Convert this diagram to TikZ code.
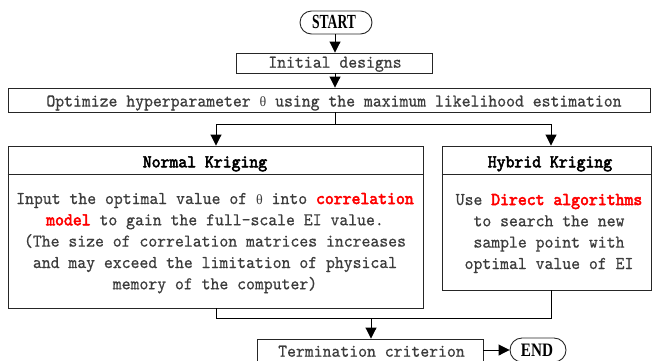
\documentclass[tikz,border=0pt]{standalone}
\usepackage{fontspec}
\newfontfamily\bodyfont{lmmono10-regular.otf}[FakeStretch=0.94, FakeBold=0.6]
\newfontfamily\heavyfont{lmmono10-regular.otf}[FakeStretch=0.94, FakeBold=3]
\newfontfamily\greekfont{Liberation Serif}
\newfontfamily\startfont{Liberation Serif}[FakeStretch=0.68]
\newfontfamily\endfont{Liberation Serif}[FakeStretch=0.8]
\usetikzlibrary{arrows.meta,shapes.misc}
\definecolor{bodygray}{HTML}{3C3C3C}
\definecolor{hilite}{HTML}{FF0000}
\newcommand{\hl}[1]{\textcolor{hilite}{\heavyfont #1}}
\newcommand{\thetachar}{{\greekfont\fontsize{14}{14}\selectfont θ}}
\tikzset{
  frame/.style={draw=black!85, line width=0.9pt, rectangle, inner sep=0pt},
  terminal/.style={draw=black!85, line width=0.9pt, rounded rectangle, inner sep=0pt},
  label/.style={anchor=base, inner sep=0pt, font=\bodyfont\fontsize{18}{21}\selectfont, text=bodygray},
  headlabel/.style={anchor=base, inner sep=0pt, font=\heavyfont\fontsize{18}{21}\selectfont, text=black},
  flow/.style={draw=black, line width=0.9pt},
  arr/.style={flow, -{Triangle[length=11pt,width=11pt]}},
}
\begin{document}
\begin{tikzpicture}[x=1pt,y=-1pt]
\useasboundingbox (0,0) rectangle (652,360);
\clip (0,0) rectangle (652,360);

% start / end terminals
\node[terminal, minimum width=72pt, minimum height=23pt] (start) at (336,22.5) {};
\node[anchor=base, inner sep=0pt, font=\startfont\bfseries\fontsize{20}{21}\selectfont] (startt) at (334,28) {START};

\node[terminal, minimum width=56pt, minimum height=24pt] (stop) at (538,350) {};
\node[anchor=base, inner sep=0pt, font=\endfont\bfseries\fontsize{19}{21}\selectfont] (stopt) at (537,356) {END};

% process boxes
\node[frame, minimum width=196pt, minimum height=20pt] (init) at (334,63) {};
\node[label] (initt) at (335,67.7) {Initial designs};

\node[frame, minimum width=642pt, minimum height=24pt] (opt) at (329,100) {};
\node[label] (optt) at (334,106.5) {Optimize hyperparameter \thetachar\ using the maximum likelihood estimation};

\node[frame, minimum width=226pt, minimum height=22pt] (term) at (370,350) {};
\node[label] (termt) at (371.5,356.7) {Termination criterion};

% normal kriging branch
\node[frame, minimum width=415pt, minimum height=162pt] (nk) at (215.5,227) {};
\draw[flow, draw=black!85] (nk.west |- 0,174) -- (nk.east |- 0,174);
\node[headlabel] (nkh) at (205,167.3) {Normal Kriging};
\node[label] (nk1) at (215,204) {Input the optimal value of \thetachar\ into \hl{correlation}};
\node[label] (nk2) at (215,225.3) {\hl{model} to gain the full-scale EI value.};
\node[label] (nk3) at (215,246.6) {(The size of correlation matrices increases};
\node[label] (nk4) at (215,268) {and may exceed the limitation of physical};
\node[label] (nk5) at (215,289.3) {memory of the computer)};

% hybrid kriging branch
\node[frame, minimum width=209pt, minimum height=144pt] (hk) at (546.5,218) {};
\draw[flow, draw=black!85] (hk.west |- 0,174) -- (hk.east |- 0,174);
\node[headlabel] (hkh) at (550,167.3) {Hybrid Kriging};
\node[label] (hk1) at (549,205) {Use \hl{Direct algorithms}};
\node[label] (hk2) at (549,226.3) {to search the new};
\node[label] (hk3) at (549,247.6) {sample point with};
\node[label] (hk4) at (549,269) {optimal value of EI};

% connectors
\coordinate (split) at (335,124);
\coordinate (merge) at (371,318);
\draw[arr] (start.south -| 335,0) -- (init.north -| 335,0);
\draw[arr] (init.south -| 335,0) -- (opt.north -| 335,0);
\draw[flow] (opt.south -| split) -- (split);
\draw[arr] (split) -| ([xshift=0.5pt]nk.north);
\draw[arr] (split) -| ([xshift=4.5pt]hk.north);
\draw[flow] ([xshift=0.5pt]nk.south) |- (merge);
\draw[flow] ([xshift=4.5pt]hk.south) |- (merge);
\draw[arr] (merge) -- (term.north -| merge);
\draw[arr] (term.east) -- (stop.west);
\end{tikzpicture}
\end{document}
